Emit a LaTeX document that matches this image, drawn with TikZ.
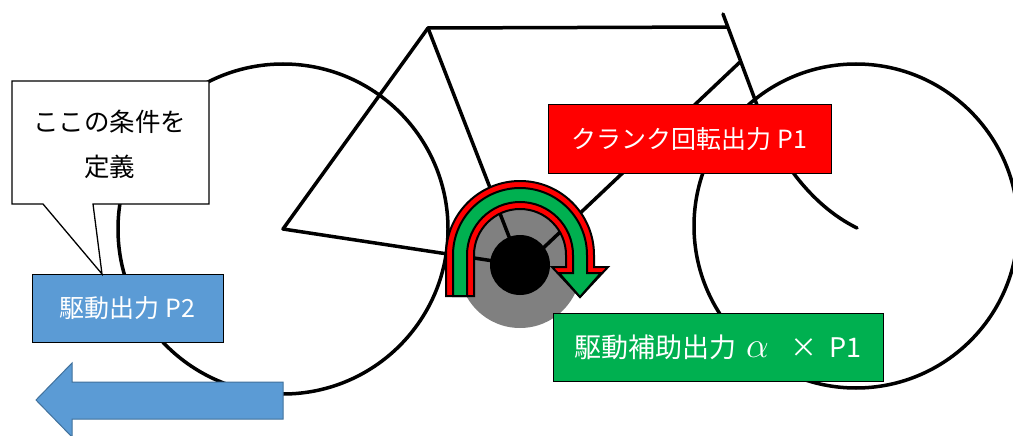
\documentclass[tikz,border=0pt]{standalone}
\usepackage{fontspec}
\newfontfamily\jpfont{Noto Sans CJK JP}
\definecolor{boxred}{HTML}{FF0000}
\definecolor{boxgreen}{HTML}{00B050}
\definecolor{boxblue}{HTML}{5B9BD5}
\definecolor{arrowedge}{HTML}{41719C}
\definecolor{hubgray}{HTML}{808080}
\begin{document}
\begin{tikzpicture}[x=1pt,y=-1pt,
  tube/.style={line width=3.5pt, line join=round, line cap=round},
  wheel/.style={line width=3.5pt},
  uarrow/.style={draw=black, line width=2pt, line join=miter},
  labelbox/.style={draw=black, line width=1pt, text=white, inner sep=0pt,
    minimum height=68pt, font=\jpfont\fontsize{25}{30}\selectfont},
  notebox/.style={draw=black, line width=1.3pt, fill=white, line join=miter}]
\clip (0,0) rectangle (1013,436);
\fill[white] (0,0) rectangle (1013,436);

% key points of the bicycle
\coordinate (rearHub) at (283,229);
\coordinate (frontHub) at (857,228);
\coordinate (bb) at (520,265);
\coordinate (seatTop) at (428,28);
\coordinate (headTop) at (723,14);
\coordinate (headJoint) at (727,27);
\coordinate (downJoint) at (740,62);
\coordinate (forkBend) at (757,105);

% wheels
\draw[wheel] (rearHub) circle[radius=165];
\draw[wheel] (856,226) circle[radius=162];

% crank disc
\fill[hubgray] (520,267) circle[radius=61];

% frame
\draw[tube] (seatTop) -- (headJoint);
\draw[tube] (seatTop) -- (bb);
\draw[tube] (seatTop) -- (rearHub) -- (bb);
\draw[tube] (downJoint) -- (520,270);
\draw[tube] (headTop) -- (forkBend) .. controls (775,155) and (810,205) .. (frontHub);

% bottom bracket
\fill[black] (bb) circle[radius=30];

% U-turn arrows around the crank
\draw[uarrow, fill=boxred] (446,296) -- (446,255) arc[start angle=180,end angle=360,radius=74]
  -- (594,267) -- (608,267) -- (580,297) -- (552,267) -- (566,267) -- (566,255)
  arc[start angle=360,end angle=180,radius=46] -- (474,296) -- cycle;
\draw[uarrow, fill=boxgreen] (453,296) -- (453,255) arc[start angle=180,end angle=360,radius=67]
  -- (587,273) -- (601,273) -- (580,297) -- (559,273) -- (573,273) -- (573,255)
  arc[start angle=360,end angle=180,radius=53] -- (467,296) -- cycle;

% labels
\node[labelbox, fill=boxred, minimum width=283pt] (crank) at (689.5,139) {クランク回転出力 P1};
\node[labelbox, fill=boxgreen, minimum width=330pt, font=\jpfont\fontsize{27}{30}\selectfont] (assist) at (718,347)
  {駆動補助出力\hspace{10pt}\scalebox{1.45}{$\alpha$}\hspace{22pt}×\hspace{12pt}P1};
\node[labelbox, fill=boxblue, minimum width=191pt] (drive) at (127.5,308) {駆動出力 P2};

% callout with its tail
\coordinate (tip) at (102,274);
\draw[notebox] (12,81) -- (209,81) -- (209,204) -- (93,204) -- (tip) -- (43,204) -- (12,204) -- cycle;
\node[align=center, font=\jpfont\fontsize{25.5}{45}\selectfont, inner sep=0pt] (note) at (110,144) {ここの条件を\\定義};

% output direction arrow
\draw[fill=boxblue, draw=arrowedge, line width=1pt] (36,400) -- (72,363) -- (72,382) -- (283,382)
  -- (283,419) -- (72,419) -- (72,437) -- cycle;
\end{tikzpicture}
\end{document}
